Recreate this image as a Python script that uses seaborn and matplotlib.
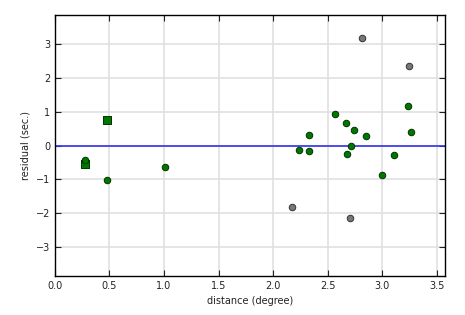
import matplotlib
matplotlib.use("Agg")
import matplotlib.pyplot as plt
import seaborn as sns
import pandas as pd

# green circles (used)
used_x = [0.28, 0.474, 1.005, 2.325, 2.233, 2.325, 2.563, 2.664, 2.737, 2.848, 2.718, 2.673, 3.104, 2.994, 3.235, 3.26]
used_y = [-0.41, -1.02, -0.62, 0.33, -0.12, -0.15, 0.95, 0.68, 0.48, 0.30, 0.0, -0.24, -0.27, -0.86, 1.18, 0.41]
# green squares
sq_x = [0.28, 0.474]
sq_y = [-0.54, 0.76]
# gray circles (rejected)
rej_x = [2.81, 3.245, 2.169, 2.705]
rej_y = [3.20, 2.37, -1.83, -2.13]

xticks = [0.0, 0.5, 1.0, 1.5, 2.0, 2.5, 3.0, 3.5]
yticks = [-3, -2, -1, 0, 1, 2, 3]

sns.set_style("white")
plt.rcParams['font.family'] = ['DejaVu Sans']

fig = plt.figure(figsize=(4.65, 3.15), dpi=100)
ax = fig.add_axes([0.118, 0.124, 0.839, 0.828])

ax.grid(True, color="#e0e0e0", linewidth=1.2, zorder=0)
ax.set_axisbelow(True)
ax.axhline(0, color="#3333ee", linewidth=1.2, zorder=1)

df_rej = pd.DataFrame({"x": rej_x, "y": rej_y})
df_used = pd.DataFrame({"x": used_x, "y": used_y})
df_sq = pd.DataFrame({"x": sq_x, "y": sq_y})

sns.scatterplot(data=df_rej, x="x", y="y", ax=ax, color="#777777", edgecolor="#333333",
                linewidth=0.7, s=22, marker="o", zorder=3)
sns.scatterplot(data=df_sq, x="x", y="y", ax=ax, color="#007700", edgecolor="#003300",
                linewidth=0.7, s=30, marker="s", zorder=3)
sns.scatterplot(data=df_used, x="x", y="y", ax=ax, color="#007700", edgecolor="#003300",
                linewidth=0.7, s=22, marker="o", zorder=4)

ax.set_xlim(0, 3.575)
ax.set_ylim(-3.86, 3.87)
ax.set_xticks(xticks)
ax.set_yticks(yticks)
ax.set_xticklabels([f"{t:.1f}" for t in xticks])
ax.set_yticklabels([f"{t}" if t >= 0 else f"\u2212{abs(t)}" for t in yticks])
ax.tick_params(direction="in", length=4, width=0.8, labelsize=7, top=True, right=True,
               bottom=True, left=True, colors="#222222", labelcolor="#222222")
for sp in ax.spines.values():
    sp.set_color("#000000")
    sp.set_linewidth(1.0)
ax.set_xlabel("distance (degree)", fontsize=7, color="#222222")
ax.set_ylabel("residual (sec.)", fontsize=7, color="#222222")

fig.savefig("out.png", dpi=100)
